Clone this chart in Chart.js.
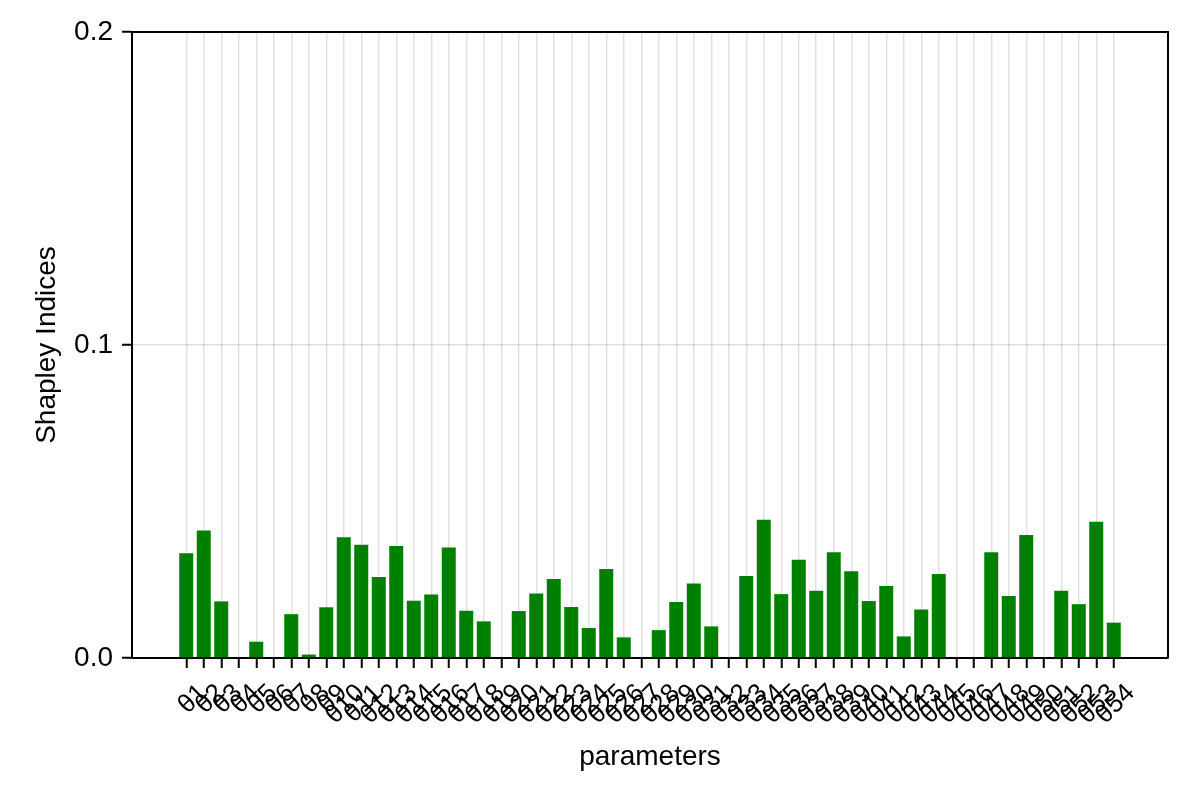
<!DOCTYPE html>
<html>
<head>
<meta charset="utf-8">
<script src="https://cdn.jsdelivr.net/npm/chart.js@4"></script>
<style>
  body { margin: 0; background: #fff; }
  canvas { display: block; }
</style>
</head>
<body>
<canvas id="chart" width="1200" height="800"></canvas>
<script>
// parameter names and their Shapley indices
const params = [];
for (let i = 1; i <= 54; i++) params.push('θ' + i);

const shapley = [
  0.0335, 0.0407, 0.0181, 0.0, 0.0052, 0.0, 0.0140, 0.0011, 0.0162, 0.0386,
  0.0362, 0.0259, 0.0358, 0.0183, 0.0203, 0.0353, 0.0151, 0.0117, 0.0, 0.0150,
  0.0206, 0.0252, 0.0163, 0.0096, 0.0284, 0.0066, 0.0, 0.0089, 0.0179, 0.0238,
  0.0101, 0.0, 0.0262, 0.0442, 0.0204, 0.0314, 0.0215, 0.0338, 0.0277, 0.0182,
  0.0230, 0.0069, 0.0155, 0.0268, 0.0, 0.0, 0.0338, 0.0198, 0.0393, 0.0,
  0.0215, 0.0172, 0.0435, 0.0113
];

const yTicks = [0, 0.1, 0.2];

Chart.defaults.font.family = '"Liberation Sans", Arial, sans-serif';
Chart.defaults.color = '#000';

// top and right spines
const frame = {
  id: 'frame',
  afterDraw(chart) {
    const a = chart.chartArea, ctx = chart.ctx;
    ctx.save();
    ctx.strokeStyle = '#000';
    ctx.lineWidth = 2;
    ctx.beginPath();
    ctx.moveTo(a.left, a.top);
    ctx.lineTo(a.right, a.top);
    ctx.lineTo(a.right, a.bottom);
    ctx.stroke();
    ctx.restore();
  }
};

new Chart(document.getElementById('chart'), {
  type: 'bar',
  data: {
    datasets: [{
      data: shapley.map((v, i) => ({ x: i + 1, y: v })),
      backgroundColor: '#008000',
      borderWidth: 0,
      barPercentage: 0.8,
      categoryPercentage: 1
    }]
  },
  options: {
    responsive: false,
    devicePixelRatio: 1,
    animation: false,
    layout: { padding: { top: 32, right: 32, left: 0, bottom: 0 } },
    plugins: { legend: { display: false }, tooltip: { enabled: false } },
    scales: {
      x: {
        type: 'linear',
        min: -2.1,
        max: 57.1,
        offset: false,
        afterFit(s) { s.height = 142; },
        afterBuildTicks(s) { s.ticks = params.map((p, i) => ({ value: i + 1 })); },
        grid: {
          offset: false,
          color: 'rgba(0,0,0,0.12)',
          lineWidth: 1.5,
          tickColor: '#000',
          tickWidth: 2,
          tickLength: 10
        },
        border: { color: '#000', width: 2 },
        ticks: {
          autoSkip: false,
          minRotation: 45,
          maxRotation: 45,
          padding: 10,
          labelOffset: 17,
          font: { size: 26 },
          callback: (v) => params[v - 1]
        },
        title: {
          display: true,
          text: 'parameters',
          font: { size: 28 },
          padding: { top: 0, bottom: 26 }
        }
      },
      y: {
        min: 0,
        max: 0.2,
        afterFit(s) { s.width = 132; },
        afterBuildTicks(s) { s.ticks = yTicks.map(v => ({ value: v })); },
        grid: {
          color: 'rgba(0,0,0,0.12)',
          lineWidth: 1.5,
          tickColor: '#000',
          tickWidth: 2,
          tickLength: 10
        },
        border: { color: '#000', width: 2 },
        ticks: {
          padding: 9,
          font: { size: 28 },
          callback: (v) => v.toFixed(1)
        },
        title: {
          display: true,
          text: 'Shapley Indices',
          font: { size: 28 },
          padding: { top: 30, bottom: 0 }
        }
      }
    }
  },
  plugins: [frame]
});
</script>
</body>
</html>
